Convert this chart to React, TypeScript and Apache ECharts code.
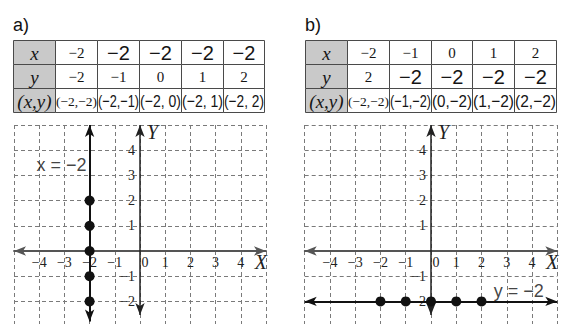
import React, { useEffect, useRef } from "react";
import * as echarts from "echarts";

// ---------- data ----------
const tableHeaders = ["x", "y", "(x,y)"];

const tableAX = ["−2", "−2", "−2", "−2", "−2"];
const tableAY = ["−2", "−1", "0", "1", "2"];
const tableAXY = ["(−2,−2)", "(−2,−1)", "(−2, 0)", "(−2, 1)", "(−2, 2)"];
const tableAFilled = [
  [false, true, true, true, true],
  [false, false, false, false, false],
  [false, true, true, true, true],
];

const tableBX = ["−2", "−1", "0", "1", "2"];
const tableBY = ["2", "−2", "−2", "−2", "−2"];
const tableBXY = ["(−2,−2)", "(−1,−2)", "(0,−2)", "(1,−2)", "(2,−2)"];
const tableBFilled = [
  [false, false, false, false, false],
  [false, true, true, true, true],
  [false, true, true, true, true],
];

const pointsAX = [-2, -2, -2, -2, -2];
const pointsAY = [-2, -1, 0, 1, 2];
const pointsBX = [-2, -1, 0, 1, 2];
const pointsBY = [-2, -2, -2, -2, -2];

const lineAValue = -2; // x = -2
const lineBValue = -2; // y = -2
const lineALabel = "x = −2";
const lineBLabel = "y = −2";
const panelLabels = ["a)", "b)"];

const xMin = -5;
const xMax = 5;
const yMin = -3;
const yMax = 5;

// ---------- styling ----------
const SERIF = '"Liberation Serif", "DejaVu Serif", serif';
const SANS = '"Liberation Sans", Arial, sans-serif';
const TICK_SIZE = 14;
const TICK_COLOR = "#222";

const fmt = (v: number) => (v < 0 ? "−" + Math.abs(v) : String(v));

let measureCtx: CanvasRenderingContext2D | null = null;
function textWidth(text: string, font: string) {
  if (!measureCtx) measureCtx = document.createElement("canvas").getContext("2d");
  if (!measureCtx) return 0;
  measureCtx.font = font;
  return measureCtx.measureText(text).width;
}

const colW = 41.85;
const rowH = 24;

function buildTable(left: number, top: number, rows: string[][], filled: boolean[][]) {
  const els: any[] = [];
  for (let r = 0; r < 3; r++) {
    for (let c = 0; c < 6; c++) {
      const x0 = Math.round(left + c * colW) + 0.5;
      const x1 = Math.round(left + (c + 1) * colW) + 0.5;
      const y0 = top + r * rowH + 0.5;
      els.push({
        type: "rect",
        shape: { x: x0, y: y0, width: x1 - x0, height: rowH },
        style: { fill: c === 0 ? "#c9c9c9" : "#ffffff", stroke: "#4a4a4a", lineWidth: 1 },
        z: 1,
      });
      let text: string;
      let fontSize: number;
      let family: string;
      let italic = false;
      if (c === 0) {
        text = tableHeaders[r];
        fontSize = 19;
        family = SERIF;
        italic = true;
      } else {
        text = rows[r][c - 1];
        const isFilled = filled[r][c - 1];
        if (isFilled) {
          family = SANS;
          fontSize = r === 2 ? 17 : 20;
        } else {
          family = SERIF;
          fontSize = r === 2 ? 13.5 : 15;
        }
      }
      const font = `${italic ? "italic " : ""}${fontSize}px ${family}`;
      const w = textWidth(text, font);
      const maxW = x1 - x0 - 1;
      const scaleX = w > maxW && w > 0 ? maxW / w : 1;
      els.push({
        type: "text",
        x: (x0 + x1) / 2,
        y: y0 + rowH / 2 + 0.5,
        scaleX,
        z: 2,
        style: {
          text,
          fontSize,
          fontFamily: family,
          fontStyle: italic ? "italic" : "normal",
          fill: "#151515",
          align: "center",
          verticalAlign: "middle",
        },
      });
    }
  }
  return els;
}

// grid geometry (pixels)
const gridTop = 125;
const gridH = 201.6;
const gridsPx = [
  { left: 14, width: 252 },
  { left: 304.7, width: 252.6 },
];

function makeXAxis(gridIndex: number) {
  // place the x axis on y = 0 via offset from the bottom edge
  const offset = -(gridH * (0 - yMin)) / (yMax - yMin);
  return {
    gridIndex,
    type: "value",
    min: xMin,
    max: xMax,
    interval: 1,
    position: "bottom",
    offset,
    axisLine: {
      show: true,
      onZero: false,
      symbol: ["arrow", "arrow"],
      symbolSize: [7, 12],
      lineStyle: { color: "#555", width: 1.8 },
    },
    axisTick: { show: false },
    axisLabel: {
      margin: 4,
      fontFamily: SERIF,
      fontSize: TICK_SIZE,
      color: TICK_COLOR,
      formatter: (v: number) => (v === 0 ? "{z|0}" : Math.abs(v) === 5 ? "" : fmt(v)),
      rich: { z: { padding: [0, 0, 0, 10], fontFamily: SERIF, fontSize: TICK_SIZE, color: TICK_COLOR } },
    },
    splitLine: { show: true, lineStyle: { color: "#7a7a7a", width: 1, type: [4, 3] } },
    name: "X",
    nameLocation: "end",
    nameGap: 1,
    nameMoveOverlap: false,
    nameTextStyle: {
      fontFamily: SERIF,
      fontStyle: "italic",
      fontSize: 20,
      color: "#222",
      align: "right",
      verticalAlign: "top",
      padding: [1, 0, 0, 0],
    },
  };
}

function makeYAxis(gridIndex: number) {
  const w = gridsPx[gridIndex].width;
  const offset = -(w * (0 - xMin)) / (xMax - xMin);
  return {
    gridIndex,
    type: "value",
    min: yMin,
    max: yMax,
    interval: 1,
    position: "left",
    offset,
    axisLine: { show: false, onZero: false },
    axisTick: { show: false },
    axisLabel: {
      margin: 5,
      fontFamily: SERIF,
      fontSize: TICK_SIZE,
      color: TICK_COLOR,
      formatter: (v: number) => (v === 0 || v >= 5 || v <= -3 ? "" : fmt(v)),
    },
    splitLine: { show: true, lineStyle: { color: "#7a7a7a", width: 1, type: [4, 3] } },
    name: "Y",
    nameLocation: "end",
    nameGap: -7,
    nameMoveOverlap: false,
    nameTextStyle: {
      fontFamily: SERIF,
      fontStyle: "italic",
      fontSize: 20,
      color: "#222",
      align: "left",
      verticalAlign: "middle",
      padding: [0, 0, 0, 7],
    },
  };
}

const zip = (a: number[], b: number[]) => a.map((v, i) => [v, b[i]]);

function buildOption() {
  const tableA = buildTable(13.3, 40, [tableAX, tableAY, tableAXY], tableAFilled);
  const tableB = buildTable(305, 40, [tableBX, tableBY, tableBXY], tableBFilled);
  const labels = panelLabels.map((t, i) => ({
    type: "text",
    x: i === 0 ? 13 : 305,
    y: 25,
    style: { text: t, fontSize: 18, fontFamily: SANS, fill: "#111", align: "left", verticalAlign: "middle" },
  }));

  const axisMark = (color: string, width: number) => ({ lineStyle: { color, width, type: "solid" } });

  return {
    animation: false,
    backgroundColor: "#ffffff",
    grid: gridsPx.map((g) => ({
      left: g.left,
      top: gridTop,
      width: g.width,
      height: gridH,
      outerBoundsMode: "none",
      containLabel: false,
    })),
    xAxis: [makeXAxis(0), makeXAxis(1)],
    yAxis: [makeYAxis(0), makeYAxis(1)],
    graphic: { elements: [...labels, ...tableA, ...tableB] },
    series: [
      {
        type: "scatter",
        xAxisIndex: 0,
        yAxisIndex: 0,
        data: zip(pointsAX, pointsAY),
        symbolSize: 10,
        itemStyle: { color: "#111", opacity: 1 },
        z: 4,
        silent: true,
        markLine: {
          silent: true,
          z: 3,
          symbol: ["arrow", "arrow"],
          symbolSize: [7, 12],
          label: { show: false },
          data: [
            [{ coord: [0, yMax], ...axisMark("#222", 1.5) }, { coord: [0, -2.54] }],
            [{ coord: [lineAValue, yMax], ...axisMark("#111", 2) }, { coord: [lineAValue, -2.8] }],
          ],
        },
      },
      {
        type: "scatter",
        xAxisIndex: 1,
        yAxisIndex: 1,
        data: zip(pointsBX, pointsBY),
        symbolSize: 10,
        itemStyle: { color: "#111", opacity: 1 },
        z: 4,
        silent: true,
        markLine: {
          silent: true,
          z: 3,
          symbol: ["arrow", "arrow"],
          symbolSize: [7, 12],
          label: { show: false },
          data: [
            [{ coord: [0, yMax], ...axisMark("#222", 1.5) }, { coord: [0, -2.54] }],
            [{ coord: [xMin, lineBValue], ...axisMark("#111", 2) }, { coord: [xMax, lineBValue] }],
          ],
        },
      },
      {
        type: "scatter",
        xAxisIndex: 0,
        yAxisIndex: 0,
        data: [[lineAValue, 3.41]],
        symbolSize: 0,
        silent: true,
        z: 5,
        label: {
          show: true,
          position: "left",
          distance: 3,
          formatter: lineALabel,
          fontFamily: SANS,
          fontSize: 18,
          color: "#111",
        },
      },
      {
        type: "scatter",
        xAxisIndex: 1,
        yAxisIndex: 1,
        data: [[3.47, -1.6]],
        symbolSize: 0,
        silent: true,
        z: 5,
        label: {
          show: true,
          position: "inside",
          formatter: lineBLabel,
          fontFamily: SANS,
          fontSize: 18,
          color: "#111",
        },
      },
    ],
  };
}

export default function App() {
  const ref = useRef<HTMLDivElement>(null);
  useEffect(() => {
    if (!ref.current) return;
    const chart = echarts.init(ref.current, null, { renderer: "svg" });
    chart.setOption(buildOption() as any);
    return () => chart.dispose();
  }, []);
  return (
    <div
      ref={ref}
      style={{ position: "absolute", left: 0, top: 0, width: 568, height: 324, background: "#fff" }}
    />
  );
}
